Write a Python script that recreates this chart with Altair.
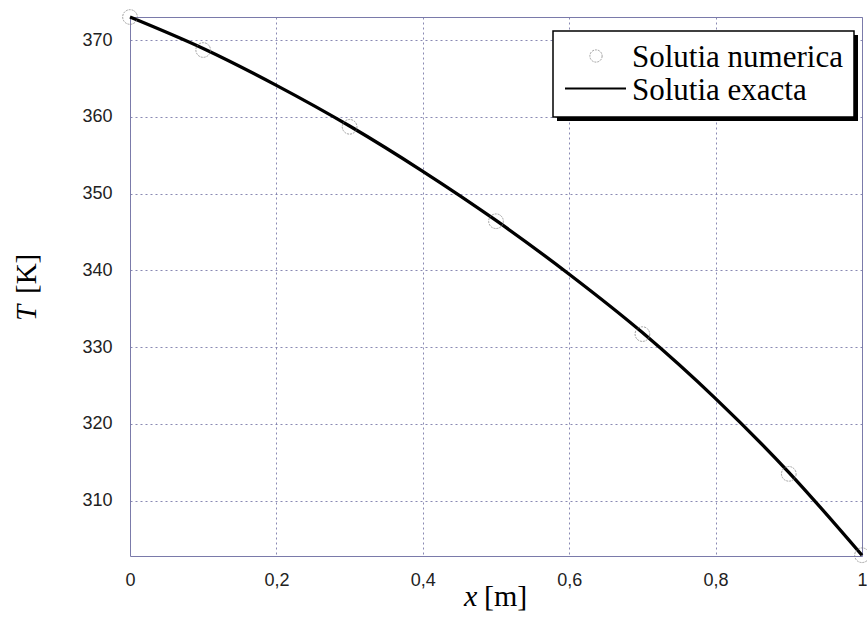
import altair as alt
import pandas as pd

# Numerical solution (circles)
num_x = [0.0, 0.1, 0.3, 0.5, 0.7, 0.9, 1.0]
num_T = [373.0, 368.7, 358.7, 346.4, 331.7, 313.5, 302.9]

# Exact solution (line)
exact_x = [0.0, 0.1, 0.2, 0.3, 0.4, 0.5, 0.6, 0.7, 0.8, 0.9, 1.0]
exact_T = [373.0, 368.9, 364.1, 358.8, 352.9, 346.5, 339.5, 331.9, 323.3, 313.7, 302.9]

x_ticks = [0, 0.2, 0.4, 0.6, 0.8, 1.0]
y_ticks = [310, 320, 330, 340, 350, 360, 370]

legend_labels = ["Solutia numerica", "Solutia exacta"]

num_df = pd.DataFrame({"x": num_x, "T": num_T})
exact_df = pd.DataFrame({"x": exact_x, "T": exact_T})
one = pd.DataFrame({"k": [0]})

GRID = "#7c7cab"
FRAME = "#7a7aaa"
SERIF = "Liberation Serif"
SANS = "Liberation Sans"

xs = alt.Scale(domain=[0, 1], nice=False, zero=False)
ys = alt.Scale(domain=[302.8, 373.0], nice=False, zero=False)

x_axis = alt.Axis(values=x_ticks, title=None, grid=True, gridColor=GRID,
                  gridDash=[2, 3], gridWidth=1, gridOpacity=0.9,
                  domain=False, ticks=False, labelFont=SANS, labelFontSize=18,
                  labelColor="#222222", labelPadding=15, labelFlush=False,
                  labelExpr="replace(format(datum.value, '~g'), '.', ',')")
y_axis = alt.Axis(values=y_ticks, title=None, grid=True, gridColor=GRID,
                  gridDash=[2, 3], gridWidth=1, gridOpacity=0.9,
                  domain=False, ticks=False, labelFont=SANS, labelFontSize=18,
                  labelColor="#222222", labelPadding=18)

line = alt.Chart(exact_df).mark_line(color="black", strokeWidth=3.3,
                                     interpolate="monotone", clip=False).encode(
    x=alt.X("x:Q", scale=xs, axis=x_axis),
    y=alt.Y("T:Q", scale=ys, axis=y_axis),
)

pts = alt.Chart(num_df).mark_point(shape="circle", size=215, filled=False,
                                   color="#7a7a7a", strokeWidth=1,
                                   strokeDash=[2, 1], clip=False).encode(
    x=alt.X("x:Q", scale=xs),
    y=alt.Y("T:Q", scale=ys),
)

# Legend (manual, with drop shadow)
shadow = alt.Chart(one).mark_rect(color="black").encode(
    x=alt.value(427), x2=alt.value(728), y=alt.value(18), y2=alt.value(104))
box = alt.Chart(one).mark_rect(fill="white", stroke="black", strokeWidth=1.5).encode(
    x=alt.value(423), x2=alt.value(724), y=alt.value(14), y2=alt.value(100))
leg_pt = alt.Chart(one).mark_point(shape="circle", size=150, filled=False,
                                   color="#7a7a7a", strokeWidth=1,
                                   strokeDash=[2, 1]).encode(
    x=alt.value(466), y=alt.value(39))
leg_line = alt.Chart(one).mark_rule(color="black", strokeWidth=2).encode(
    x=alt.value(435), x2=alt.value(496), y=alt.value(71.5))
leg_t1 = alt.Chart(one).mark_text(text=legend_labels[0], font=SERIF, fontSize=31,
                                  align="left", baseline="alphabetic",
                                  color="black").encode(
    x=alt.value(502), y=alt.value(50))
leg_t2 = alt.Chart(one).mark_text(text=legend_labels[1], font=SERIF, fontSize=31,
                                  align="left", baseline="alphabetic",
                                  color="black").encode(
    x=alt.value(502), y=alt.value(83))

# Axis titles with italic variable names
xt1 = alt.Chart(one).mark_text(text="x", font=SERIF, fontSize=30, fontStyle="italic",
                               align="left", baseline="alphabetic", color="black").encode(
    x=alt.value(334), y=alt.value(589))
xt2 = alt.Chart(one).mark_text(text="[m]", font=SERIF, fontSize=30,
                               align="left", baseline="alphabetic", color="black").encode(
    x=alt.value(354), y=alt.value(589))
yt1 = alt.Chart(one).mark_text(text="T", font=SERIF, fontSize=29, fontStyle="italic",
                               angle=270, align="left", baseline="alphabetic",
                               color="black").encode(
    x=alt.value(-94), y=alt.value(304))
yt2 = alt.Chart(one).mark_text(text="[K]", font=SERIF, fontSize=29,
                               angle=270, align="left", baseline="alphabetic",
                               color="black").encode(
    x=alt.value(-94), y=alt.value(277))

chart = alt.layer(line, pts, shadow, box, leg_pt, leg_line, leg_t1, leg_t2,
                  xt1, xt2, yt1, yt2).properties(
    width=732, height=539,
    padding={"left": 130, "top": 17, "right": 5, "bottom": 65},
    autosize=alt.AutoSizeParams(type="none"),
    background="white",
).configure_view(stroke=FRAME, strokeWidth=1)

chart.save("out.html", embed_options={"renderer": "svg", "actions": False})
